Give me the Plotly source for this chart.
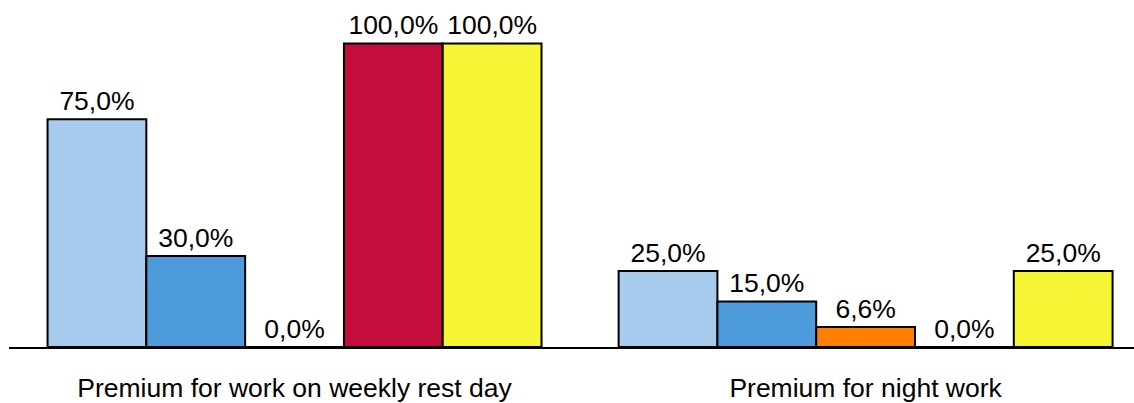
import plotly.graph_objects as go

# Categories and series values (percent)
categories = ["Premium for work on weekly rest day", "Premium for night work"]
series_names = ["A", "B", "C", "D", "E"]
series_values = [
    [75.0, 25.0],
    [30.0, 15.0],
    [0.0, 6.6],
    [100.0, 0.0],
    [100.0, 25.0],
]
series_colors = ["#A6CBEC", "#4D9BDB", "#FF8000", "#C30E3D", "#F5F535"]

FONT = "Arial, 'Liberation Sans', sans-serif"
FSIZE = 26.5

fig = go.Figure()
for name, vals, col in zip(series_names, series_values, series_colors):
    fig.add_trace(go.Bar(
        x=[0, 1],
        y=vals,
        name=name,
        marker=dict(color=col, line=dict(color="black", width=2)),
        texttemplate="%{y:.1f}%",
        textposition="outside",
        textfont=dict(family=FONT, size=FSIZE, color="black"),
        cliponaxis=False,
        showlegend=False,
    ))

fig.update_layout(
    width=1134,
    height=403,
    margin=dict(l=9, r=0, t=0, b=56),
    paper_bgcolor="white",
    plot_bgcolor="white",
    barmode="group",
    bargap=0.135,
    bargroupgap=0,
    separators=", ",
    font=dict(family=FONT, size=FSIZE, color="black"),
    uniformtext=dict(minsize=FSIZE, mode="show"),
)
fig.update_xaxes(
    tickmode="array",
    tickvals=[0, 1],
    ticktext=categories,
    range=[-0.5, 1.47],
    showline=True,
    linecolor="black",
    linewidth=2,
    ticks="",
    ticklabelstandoff=16,
    tickfont=dict(family=FONT, size=FSIZE, color="black"),
    showgrid=False,
    zeroline=False,
    automargin=False,
)
fig.update_yaxes(
    range=[0, 114.3],
    visible=False,
    showgrid=False,
    zeroline=False,
    automargin=False,
)

fig.write_html("out.html")
